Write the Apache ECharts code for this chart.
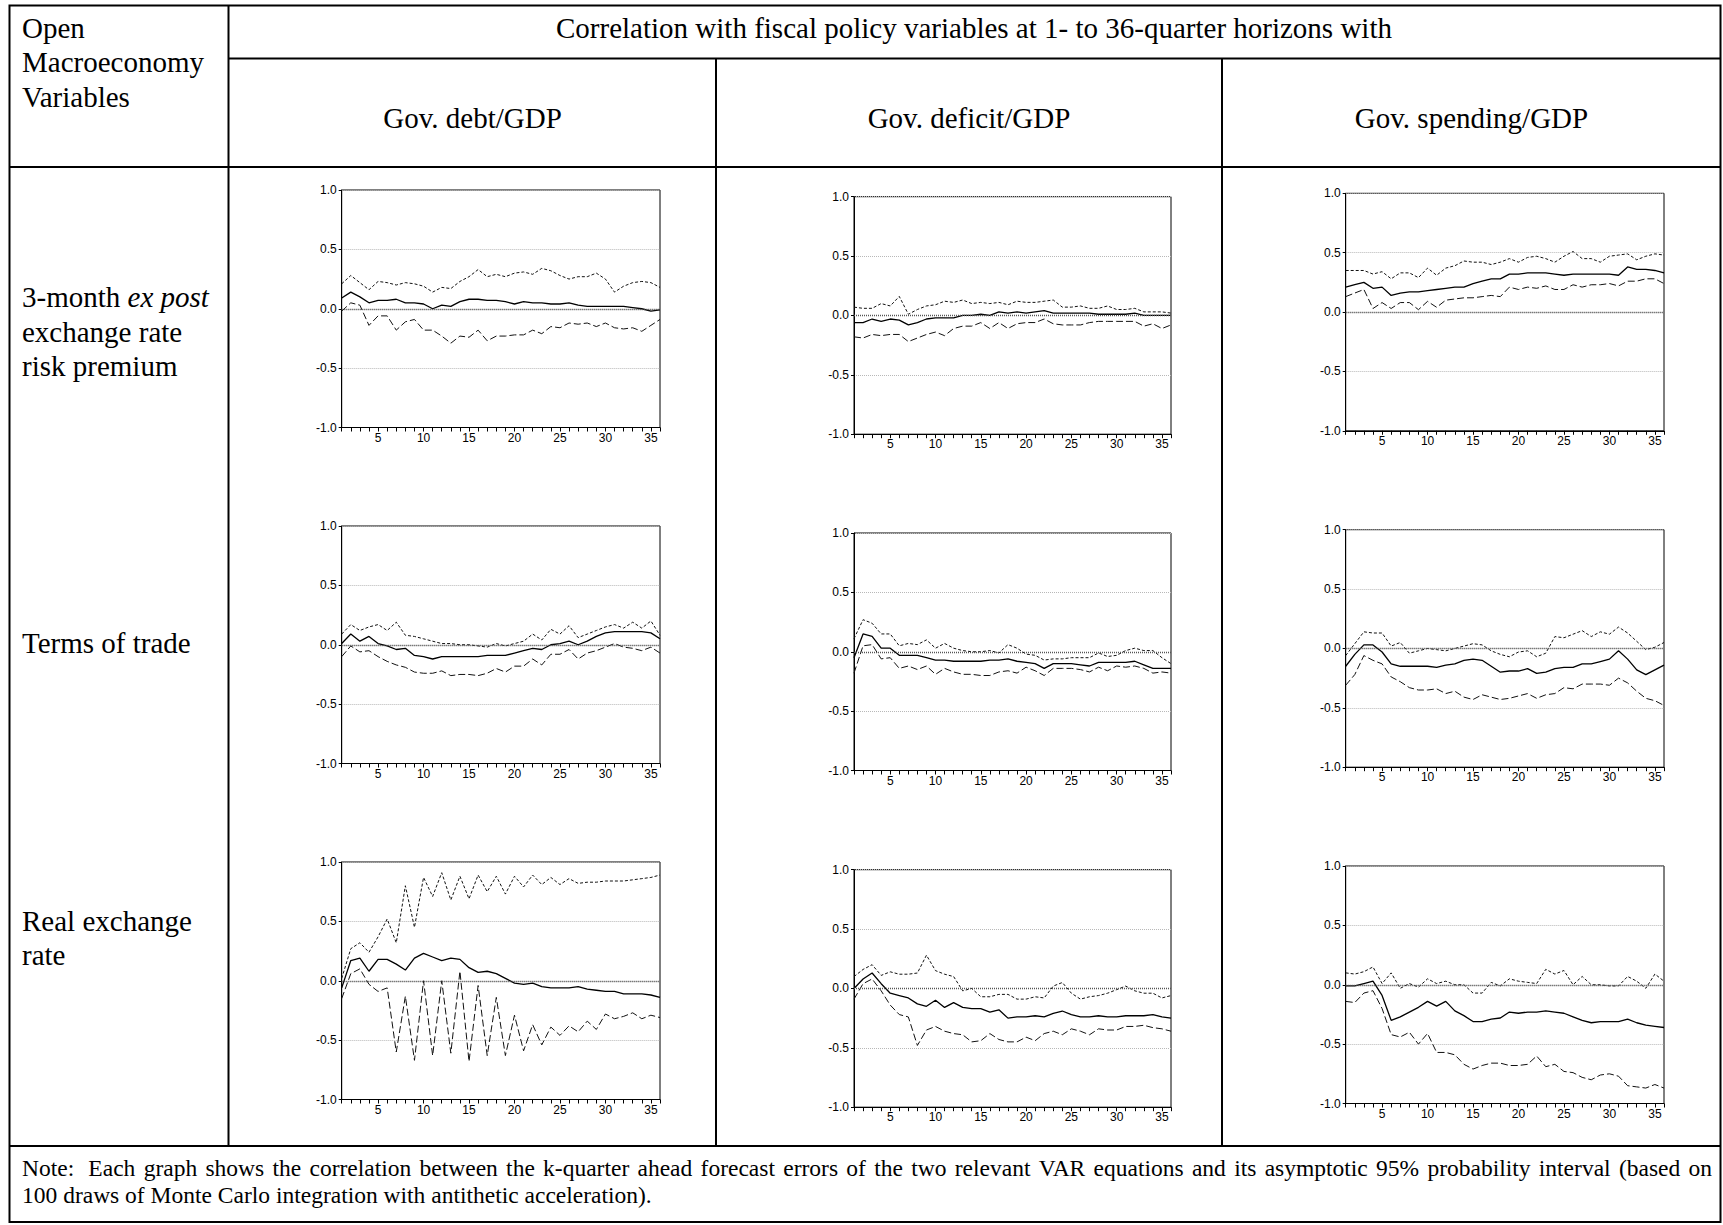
<!DOCTYPE html>
<html>
<head>
<meta charset="utf-8">
<title>Correlation with fiscal policy variables</title>
<script src="https://cdn.jsdelivr.net/npm/echarts@6/dist/echarts.min.js"></script>
<style>
  html, body { margin: 0; padding: 0; background: #fff; }
  #chart { width: 1723px; height: 1225px; }
</style>
</head>
<body>
<div id="chart"></div>
<script>
// Forecast horizons (quarters) and labelled ticks
const horizons = [1,2,3,4,5,6,7,8,9,10,11,12,13,14,15,16,17,18,19,20,21,22,23,24,25,26,27,28,29,30,31,32,33,34,35,36];
const horizonLabels = [5,10,15,20,25,30,35];
const corrTicks = [-1.0,-0.5,0.0,0.5,1.0];

const rowLabels = ['3-month {i|ex post}\nexchange rate\nrisk premium', 'Terms of trade', 'Real exchange\nrate'];
const colLabels = ['Gov. debt/GDP', 'Gov. deficit/GDP', 'Gov. spending/GDP'];

// Risk premium vs fiscal variables: point estimate (mid) and 95% band (up / lo)
const riskDebtUp  = [0.21,0.28,0.22,0.16,0.23,0.22,0.20,0.22,0.21,0.19,0.14,0.18,0.17,0.23,0.27,0.33,0.27,0.29,0.27,0.30,0.31,0.29,0.34,0.32,0.28,0.25,0.27,0.27,0.30,0.25,0.14,0.19,0.22,0.23,0.22,0.18];
const riskDebtMid = [0.09,0.14,0.10,0.05,0.07,0.07,0.08,0.05,0.05,0.04,0.00,0.03,0.02,0.06,0.08,0.08,0.07,0.07,0.06,0.04,0.06,0.05,0.05,0.04,0.04,0.05,0.03,0.02,0.02,0.02,0.02,0.02,0.01,0.00,-0.02,-0.01];
const riskDebtLo  = [-0.02,0.05,0.03,-0.14,-0.06,-0.06,-0.18,-0.11,-0.09,-0.18,-0.18,-0.23,-0.29,-0.23,-0.24,-0.18,-0.27,-0.23,-0.23,-0.22,-0.22,-0.18,-0.21,-0.15,-0.16,-0.12,-0.13,-0.12,-0.15,-0.12,-0.16,-0.17,-0.16,-0.19,-0.14,-0.09];

const riskDeficitUp  = [0.07,0.06,0.06,0.10,0.08,0.16,0.01,0.05,0.08,0.09,0.12,0.11,0.13,0.10,0.11,0.10,0.11,0.09,0.12,0.11,0.11,0.12,0.13,0.07,0.07,0.08,0.06,0.06,0.08,0.05,0.05,0.06,0.03,0.03,0.03,0.02];
const riskDeficitMid = [-0.06,-0.06,-0.03,-0.05,-0.03,-0.04,-0.08,-0.06,-0.03,-0.02,-0.02,-0.02,0.00,0.00,0.01,0.00,0.03,0.02,0.03,0.02,0.03,0.04,0.02,0.02,0.02,0.02,0.02,0.01,0.01,0.01,0.01,0.02,0.00,0.00,0.00,0.00];
const riskDeficitLo  = [-0.18,-0.19,-0.16,-0.17,-0.16,-0.16,-0.22,-0.19,-0.16,-0.14,-0.17,-0.11,-0.09,-0.09,-0.06,-0.11,-0.06,-0.11,-0.07,-0.06,-0.06,-0.03,-0.07,-0.08,-0.08,-0.08,-0.06,-0.05,-0.05,-0.05,-0.05,-0.05,-0.09,-0.07,-0.11,-0.08];

const riskSpendingUp  = [0.35,0.35,0.35,0.32,0.34,0.28,0.33,0.33,0.29,0.37,0.31,0.37,0.39,0.43,0.42,0.42,0.40,0.42,0.45,0.42,0.46,0.47,0.45,0.42,0.47,0.51,0.45,0.45,0.42,0.47,0.48,0.49,0.44,0.47,0.49,0.48];
const riskSpendingMid = [0.21,0.23,0.25,0.20,0.21,0.14,0.16,0.17,0.17,0.18,0.19,0.20,0.21,0.21,0.24,0.26,0.28,0.28,0.32,0.32,0.33,0.33,0.33,0.32,0.31,0.32,0.32,0.32,0.32,0.32,0.31,0.38,0.36,0.36,0.35,0.33];
const riskSpendingLo  = [0.13,0.16,0.19,0.03,0.08,0.03,0.08,0.08,0.02,0.09,0.04,0.10,0.11,0.12,0.12,0.13,0.14,0.13,0.21,0.19,0.21,0.20,0.22,0.19,0.19,0.23,0.21,0.23,0.23,0.24,0.22,0.26,0.26,0.28,0.28,0.24];

// Terms of trade vs fiscal variables
const totDebtUp  = [0.09,0.17,0.12,0.15,0.17,0.12,0.19,0.08,0.07,0.05,0.03,0.01,0.01,0.00,0.00,-0.01,-0.02,0.01,-0.01,0.01,0.03,0.09,0.04,0.13,0.09,0.16,0.06,0.09,0.12,0.15,0.17,0.14,0.19,0.14,0.20,0.08];
const totDebtMid = [0.01,0.09,0.03,0.07,0.01,-0.01,-0.04,-0.03,-0.09,-0.10,-0.12,-0.10,-0.10,-0.10,-0.10,-0.10,-0.09,-0.09,-0.09,-0.07,-0.05,-0.03,-0.04,0.00,0.01,0.03,0.00,0.03,0.07,0.10,0.11,0.11,0.11,0.11,0.10,0.05];
const totDebtLo  = [-0.10,-0.01,-0.06,-0.05,-0.10,-0.14,-0.17,-0.19,-0.23,-0.24,-0.24,-0.22,-0.26,-0.25,-0.25,-0.26,-0.24,-0.20,-0.23,-0.18,-0.18,-0.12,-0.17,-0.08,-0.08,-0.04,-0.12,-0.07,-0.05,-0.02,0.01,-0.02,-0.03,-0.05,-0.02,-0.07];

const totDeficitUp  = [0.11,0.27,0.24,0.15,0.15,0.05,0.07,0.06,0.10,0.03,0.07,0.03,0.01,0.00,0.00,0.01,-0.01,0.06,0.03,-0.02,-0.03,-0.07,-0.06,-0.06,-0.05,-0.05,-0.05,-0.01,-0.04,-0.03,0.01,0.03,0.01,0.01,-0.05,-0.10];
const totDeficitMid = [-0.05,0.15,0.13,0.03,0.03,-0.03,-0.03,-0.03,-0.05,-0.07,-0.07,-0.08,-0.08,-0.08,-0.08,-0.07,-0.07,-0.06,-0.08,-0.09,-0.10,-0.14,-0.10,-0.10,-0.10,-0.11,-0.12,-0.09,-0.09,-0.09,-0.09,-0.08,-0.11,-0.14,-0.14,-0.14];
const totDeficitLo  = [-0.18,0.05,0.06,-0.06,-0.05,-0.14,-0.12,-0.15,-0.12,-0.19,-0.14,-0.17,-0.19,-0.19,-0.20,-0.20,-0.17,-0.16,-0.18,-0.13,-0.16,-0.20,-0.14,-0.14,-0.14,-0.15,-0.17,-0.13,-0.16,-0.12,-0.13,-0.12,-0.14,-0.18,-0.17,-0.18];

const totSpendingUp  = [-0.06,0.04,0.14,0.13,0.13,0.02,0.05,-0.04,-0.02,0.00,-0.01,-0.02,0.00,0.02,0.04,0.03,-0.02,-0.05,-0.07,-0.03,-0.02,-0.07,-0.04,0.10,0.09,0.12,0.15,0.10,0.14,0.12,0.18,0.13,0.06,-0.01,0.01,0.05];
const totSpendingMid = [-0.15,-0.05,0.03,0.03,-0.03,-0.13,-0.15,-0.15,-0.15,-0.15,-0.16,-0.14,-0.13,-0.10,-0.09,-0.10,-0.15,-0.20,-0.19,-0.19,-0.17,-0.21,-0.20,-0.17,-0.16,-0.16,-0.13,-0.13,-0.11,-0.09,-0.02,-0.09,-0.18,-0.22,-0.18,-0.14];
const totSpendingLo  = [-0.31,-0.22,-0.06,-0.10,-0.13,-0.24,-0.28,-0.33,-0.35,-0.35,-0.34,-0.38,-0.36,-0.41,-0.43,-0.39,-0.41,-0.43,-0.42,-0.40,-0.38,-0.42,-0.39,-0.38,-0.33,-0.34,-0.30,-0.30,-0.30,-0.31,-0.25,-0.29,-0.36,-0.42,-0.44,-0.48];

// Real exchange rate vs fiscal variables
const rerDebtUp  = [0.02,0.27,0.32,0.24,0.37,0.52,0.32,0.80,0.45,0.87,0.71,0.91,0.68,0.88,0.69,0.89,0.75,0.88,0.73,0.88,0.79,0.89,0.81,0.87,0.81,0.86,0.82,0.83,0.83,0.84,0.84,0.84,0.85,0.86,0.87,0.89];
const rerDebtMid = [-0.06,0.17,0.19,0.08,0.18,0.18,0.14,0.09,0.19,0.23,0.20,0.17,0.19,0.18,0.11,0.07,0.08,0.06,0.02,-0.02,-0.03,-0.02,-0.05,-0.06,-0.06,-0.06,-0.05,-0.07,-0.08,-0.09,-0.09,-0.11,-0.11,-0.11,-0.12,-0.14];
const rerDebtLo  = [-0.15,0.06,0.10,-0.03,-0.09,-0.06,-0.60,-0.13,-0.67,0.00,-0.63,0.00,-0.61,0.08,-0.68,-0.04,-0.63,-0.14,-0.63,-0.29,-0.59,-0.37,-0.54,-0.39,-0.46,-0.38,-0.43,-0.34,-0.41,-0.28,-0.32,-0.30,-0.27,-0.32,-0.29,-0.31];

const rerDeficitUp  = [0.10,0.16,0.20,0.11,0.14,0.12,0.12,0.13,0.28,0.15,0.12,0.10,-0.02,0.00,-0.07,-0.07,-0.05,-0.05,-0.09,-0.09,-0.07,-0.08,0.02,0.05,-0.04,-0.09,-0.07,-0.06,-0.04,-0.01,0.02,-0.02,-0.04,-0.04,-0.08,-0.06];
const rerDeficitMid = [0.00,0.08,0.13,0.04,-0.04,-0.06,-0.08,-0.13,-0.15,-0.10,-0.16,-0.12,-0.16,-0.17,-0.17,-0.20,-0.18,-0.25,-0.24,-0.24,-0.23,-0.24,-0.21,-0.19,-0.22,-0.24,-0.24,-0.23,-0.24,-0.24,-0.23,-0.23,-0.23,-0.22,-0.24,-0.25];
const rerDeficitLo  = [-0.09,0.04,0.08,-0.02,-0.14,-0.22,-0.24,-0.48,-0.35,-0.32,-0.36,-0.38,-0.39,-0.45,-0.44,-0.38,-0.43,-0.45,-0.45,-0.41,-0.44,-0.38,-0.36,-0.39,-0.34,-0.36,-0.39,-0.34,-0.35,-0.35,-0.32,-0.32,-0.31,-0.33,-0.34,-0.36];

const rerSpendingUp  = [0.10,0.09,0.11,0.15,0.01,0.10,-0.03,0.01,-0.02,0.05,0.01,0.03,0.00,0.00,-0.07,-0.07,0.02,-0.01,0.05,0.03,0.02,0.01,0.13,0.09,0.12,0.00,0.07,0.00,0.00,-0.01,-0.01,0.07,0.03,-0.03,0.09,0.03];
const rerSpendingMid = [-0.01,-0.01,0.01,0.03,-0.09,-0.30,-0.27,-0.23,-0.19,-0.14,-0.18,-0.14,-0.22,-0.26,-0.31,-0.31,-0.29,-0.28,-0.23,-0.24,-0.23,-0.23,-0.22,-0.23,-0.24,-0.27,-0.30,-0.32,-0.31,-0.31,-0.31,-0.29,-0.32,-0.34,-0.35,-0.36];
const rerSpendingLo  = [-0.14,-0.15,-0.07,-0.05,-0.20,-0.42,-0.44,-0.40,-0.50,-0.41,-0.57,-0.57,-0.59,-0.67,-0.71,-0.68,-0.66,-0.66,-0.68,-0.68,-0.67,-0.60,-0.69,-0.67,-0.73,-0.74,-0.78,-0.80,-0.76,-0.75,-0.77,-0.85,-0.86,-0.87,-0.84,-0.87];

const panelSeries = [
  [riskDebtUp, riskDebtMid, riskDebtLo],
  [riskDeficitUp, riskDeficitMid, riskDeficitLo],
  [riskSpendingUp, riskSpendingMid, riskSpendingLo],
  [totDebtUp, totDebtMid, totDebtLo],
  [totDeficitUp, totDeficitMid, totDeficitLo],
  [totSpendingUp, totSpendingMid, totSpendingLo],
  [rerDebtUp, rerDebtMid, rerDebtLo],
  [rerDeficitUp, rerDeficitMid, rerDeficitLo],
  [rerSpendingUp, rerSpendingMid, rerSpendingLo]
];

const noteLine1 = 'Note:  Each graph shows the correlation between the k-quarter ahead forecast errors of the two relevant VAR equations and its asymptotic 95% probability interval (based on';
const noteLine2 = '100 draws of Monte Carlo integration with antithetic acceleration).';
const headerTitle = 'Correlation with fiscal policy variables at 1- to 36-quarter horizons with';
const cornerLabel = 'Open\nMacroeconomy\nVariables';

// ---- layout ----
const W = 1723, H = 1225;
const SERIF_STACK = '"Liberation Serif", "Times New Roman", Times, serif';
const SANS = 'Liberation Sans';
const serifFont = (size, italic) => (italic ? 'italic ' : 'normal ') + 'normal ' + size + 'px ' + SERIF_STACK;
const plotLeft = [341.7, 854, 1345.7];
const plotWidth = [318.3, 317, 318.3];
const plotTop = [[190, 196.7, 193.3], [526, 533, 529.7], [862, 869.7, 866]];
const plotHeight = 237.5;

const grids = [], xAxes = [], yAxes = [], series = [];
panelSeries.forEach((triple, k) => {
  const r = Math.floor(k / 3), c = k % 3;
  grids.push({
    left: plotLeft[c], top: plotTop[r][c], width: plotWidth[c], height: plotHeight,
    show: true, borderColor: '#000', borderWidth: 1, backgroundColor: '#fff'
  });
  xAxes.push({
    gridIndex: k, type: 'value', min: 1, max: 36, interval: 1,
    axisLine: { show: true, onZero: false, lineStyle: { color: '#000', width: 1 } },
    axisTick: { show: true, inside: false, length: 4, lineStyle: { color: '#000', width: 1 } },
    axisLabel: {
      show: true, margin: 4, color: '#000', fontFamily: SANS, fontSize: 12,
      showMinLabel: true, showMaxLabel: true,
      formatter: v => horizonLabels.includes(v) ? String(v) : ''
    },
    splitLine: { show: false }
  });
  yAxes.push({
    gridIndex: k, type: 'value', min: corrTicks[0], max: corrTicks[corrTicks.length - 1], interval: 0.5,
    axisLine: { show: true, lineStyle: { color: '#000', width: 1 } },
    axisTick: { show: true, inside: false, length: 3, lineStyle: { color: '#000', width: 1 } },
    axisLabel: { margin: 5, color: '#000', fontFamily: SANS, fontSize: 12, formatter: v => v.toFixed(1) },
    splitLine: { show: true, lineStyle: { color: '#b8b8b8', width: 1, type: [1, 1] } }
  });
  const pairs = arr => horizons.map((h, i) => [h, arr[i]]);
  const [up, mid, lo] = triple;
  series.push({
    type: 'line', xAxisIndex: k, yAxisIndex: k, data: pairs(up), symbol: 'none',
    lineStyle: { color: '#111', width: 1, type: [3, 2] }, silent: true, z: 3
  });
  series.push({
    type: 'line', xAxisIndex: k, yAxisIndex: k, data: pairs(lo), symbol: 'none',
    lineStyle: { color: '#111', width: 1, type: [7, 3] }, silent: true, z: 3
  });
  series.push({
    type: 'line', xAxisIndex: k, yAxisIndex: k, data: pairs(mid), symbol: 'none',
    lineStyle: { color: '#000', width: 1.3, type: 'solid' }, silent: true, z: 4,
    markLine: {
      silent: true, symbol: 'none', label: { show: false }, animation: false,
      lineStyle: { color: '#555', width: 1.3, type: [1, 1] },
      data: [{ yAxis: 0 }]
    }
  });
});

// ---- table frame and text ----
const frame = { stroke: '#000', lineWidth: 2 };
const hline = (x1, x2, y) => ({ type: 'line', shape: { x1, y1: y, x2, y2: y }, style: frame, silent: true });
const vline = (x, y1, y2) => ({ type: 'line', shape: { x1: x, y1, x2: x, y2 }, style: frame, silent: true });
const txt = (text, x, y, size, opts) => ({
  type: 'text', silent: true,
  style: Object.assign({ text, x, y, fill: '#000', font: serifFont(size || 29, false),
    textAlign: 'left', textVerticalAlign: 'middle', lineHeight: 34.6 }, opts || {})
});

const graphics = [
  { type: 'rect', shape: { x: 9.5, y: 5.5, width: 1711, height: 1216.5 }, style: { fill: 'none', stroke: '#000', lineWidth: 2 }, silent: true },
  hline(228.5, 1720.5, 58.5),
  hline(9.5, 1720.5, 167),
  hline(9.5, 1720.5, 1146),
  vline(228.5, 5.5, 1146),
  vline(716, 58.5, 1146),
  vline(1222, 58.5, 1146),
  txt(cornerLabel, 22, 62.3),
  txt(headerTitle, 974, 27.5, 29, { textAlign: 'center' }),
  txt(colLabels[0], 472.5, 117.6, 29, { textAlign: 'center' }),
  txt(colLabels[1], 969, 117.6, 29, { textAlign: 'center' }),
  txt(colLabels[2], 1471.5, 117.6, 29, { textAlign: 'center' }),
  txt(rowLabels[0], 22, 331.5, 29, { rich: { i: { font: serifFont(29, true), fontStyle: 'italic', lineHeight: 34.6 } } }),
  txt(rowLabels[1], 22, 642.8),
  txt(rowLabels[2], 22, 938)
];

// Note: first line justified across the cell, second line set ragged
const NOTE_SIZE = 23.5;
const noteLeft = 22, noteRight = 1712;
const ctx = document.createElement('canvas').getContext('2d');
ctx.font = serifFont(NOTE_SIZE, false);
const words = noteLine1.replace('Note:  ', 'Note:\u00a0 ').split(' ');
const widths = words.map(w => ctx.measureText(w).width);
const totalW = widths.reduce((a, b) => a + b, 0);
const gap = (noteRight - noteLeft - totalW) / (words.length - 1);
let cx = noteLeft;
words.forEach((w, i) => {
  graphics.push(txt(w, cx, 1167.5, NOTE_SIZE));
  cx += widths[i] + gap;
});
graphics.push(txt(noteLine2, noteLeft, 1195, NOTE_SIZE));

const chart = echarts.init(document.getElementById('chart'), null, { renderer: 'svg', width: W, height: H });
chart.setOption({
  animation: false,
  backgroundColor: '#fff',
  grid: grids,
  xAxis: xAxes,
  yAxis: yAxes,
  series: series,
  graphic: { elements: graphics }
});
</script>
</body>
</html>
